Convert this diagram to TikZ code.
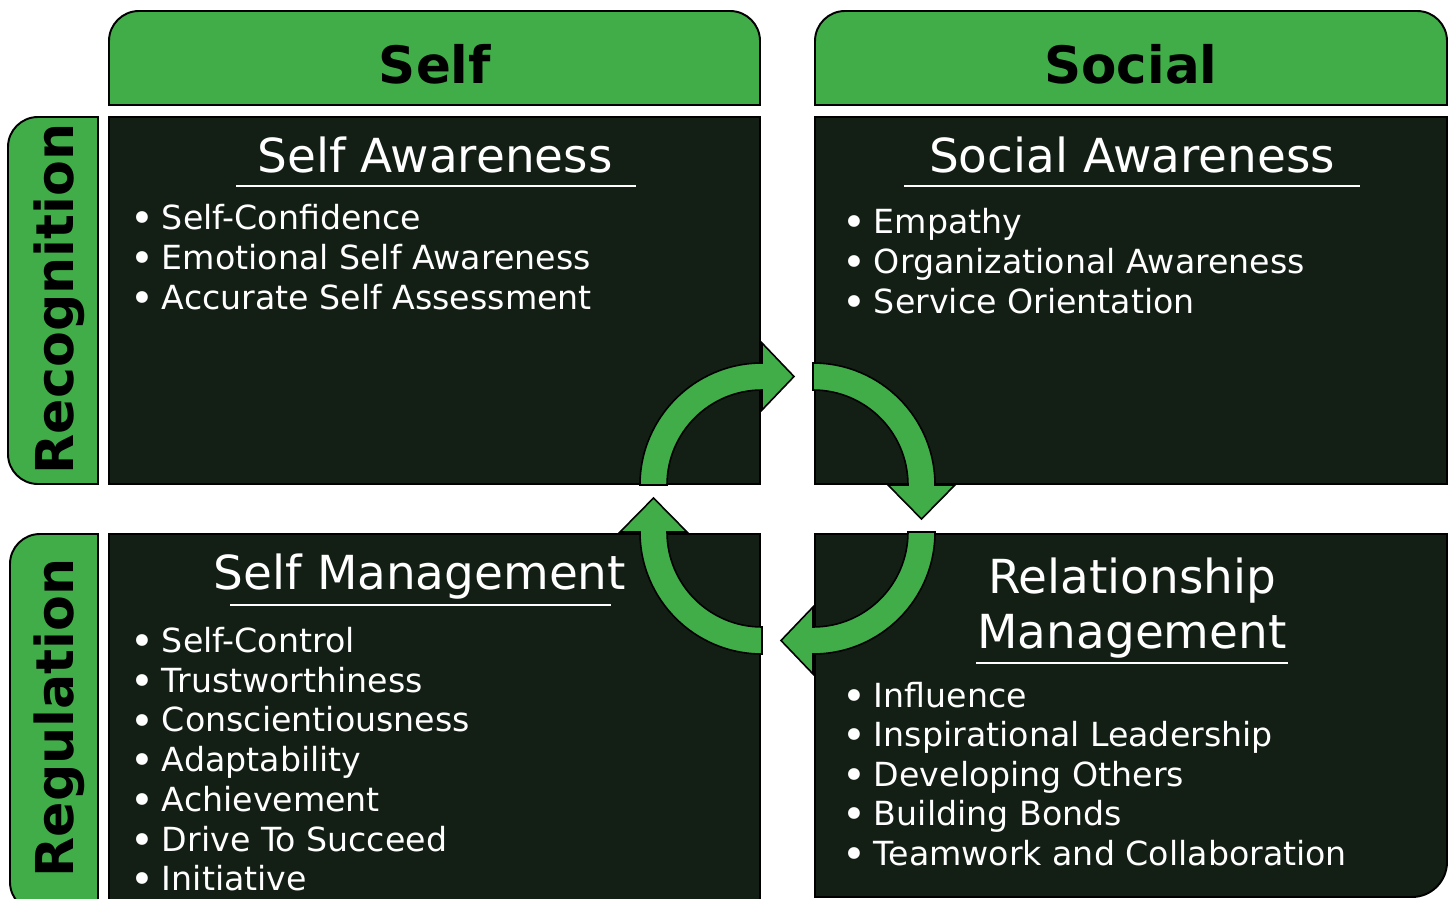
\documentclass[tikz,border=0pt]{standalone}
\usepackage{fontspec}
\setmainfont{DejaVu Sans}
\usepackage{tikz}
\definecolor{eqgreen}{RGB}{65,173,73}
\definecolor{eqdark}{RGB}{19,31,21}
\newcommand{\eqbul}{\makebox[18pt][l]{\raisebox{-1.8pt}{\fontsize{23}{23}\selectfont •}}}
\tikzset{
	headtxt/.style={font=\fontsize{29.3}{35}\selectfont\bfseries, text=black, anchor=base, inner sep=0pt},
	sidetxt/.style={font=\fontsize{29.7}{35}\selectfont\bfseries, text=black, anchor=base, rotate=90, inner sep=0pt},
	titletxt/.style={font=\fontsize{26.7}{32}\selectfont, text=white, anchor=base, inner sep=0pt},
	itemtxt/.style={font=\fontsize{18.9}{22}\selectfont, text=white, anchor=base west, inner sep=0pt},
	panel/.style={fill=eqdark, draw=black, line width=1.1pt},
	tab/.style={fill=eqgreen, draw=black, line width=1.1pt},
	turn/.style={fill=eqgreen, draw=black, line width=0.9pt, line join=miter},
	uline/.style={draw=white, line width=1.4pt}
}

\begin{document}
\begin{tikzpicture}[x=0.02cm, y=-0.02cm]
			%%%%% START %%%%%
			\useasboundingbox (0,0) rectangle (1450,899);
			\clip (0,0) rectangle (1450,899);
			
			% column tabs
			\draw[tab] (109,105) -- (109,41) arc (180:270:30) -- (730,11) arc (270:360:30) -- (760,105) -- cycle;
			\draw[tab] (815,105) -- (815,41) arc (180:270:30) -- (1417,11) arc (270:360:30) -- (1447,105) -- cycle;
			\node[headtxt] (self) at (435,83) {Self};
			\node[headtxt] (social) at (1131,83) {Social};
			
			% row tabs
			\draw[tab] (98,117) -- (38,117) arc (270:180:30) -- (8,454) arc (180:90:30) -- (98,484) -- cycle;
			\draw[tab] (98,534) -- (40,534) arc (270:180:30) -- (10,882) arc (180:90:30) -- (98,912) -- cycle;
			\node[sidetxt] (recog) at (73,299) {Recognition};
			\node[sidetxt] (regul) at (73,718) {Regulation};
			
			% panels
			\draw[panel] (109,117) rectangle (760,484);
			\draw[panel] (815,117) rectangle (1447,484);
			\draw[panel] (109,534) rectangle (760,915);
			\draw[panel] (815,534) -- (1447,534) -- (1447,862) arc (0:90:35) -- (815,897) -- cycle;
			
			% self awareness
			\node[titletxt] (sa) at (435,172) {Self Awareness};
			\draw[uline] (236,186) -- (636,186);
			\foreach \txt [count=\i from 0] in {Self-Confidence, Emotional Self Awareness, Accurate Self Assessment}
				\node[itemtxt] (sa-\i) at (130,{229.5+40*\i}) {\eqbul\txt};
			
			% social awareness
			\node[titletxt] (soa) at (1132,172) {Social Awareness};
			\draw[uline] (904,186) -- (1360,186);
			\foreach \txt [count=\i from 0] in {Empathy, Organizational Awareness, Service Orientation}
				\node[itemtxt] (soa-\i) at (842,{233+40*\i}) {\eqbul\txt};
			
			% self management
			\node[titletxt] (sm) at (420,589) {Self Management};
			\draw[uline] (230,605) -- (611,605);
			\foreach \txt [count=\i from 0] in {Self-Control, Trustworthiness, Conscientiousness, Adaptability, Achievement, Drive To Succeed, Initiative}
				\node[itemtxt] (sm-\i) at (130,{652.5+39.7*\i}) {\eqbul\txt};
			
			% relationship management
			\node[titletxt] (rm) at (1132,593) {Relationship};
			\node[titletxt] (rm2) at (1132,648) {Management};
			\draw[uline] (976,663) -- (1288,663);
			\foreach \txt [count=\i from 0] in {Influence, Inspirational Leadership, Developing Others, Building Bonds, Teamwork and Collaboration}
				\node[itemtxt] (rm-\i) at (842,{707+39.6*\i}) {\eqbul\txt};
			
			% cycle arrows
			\draw[turn] (640,485) arc (180:270:122) -- (762,343) -- (794,376.5) -- (762,410) -- (762,390) arc (270:180:95) -- cycle;
			\draw[turn] (813,363) arc (270:360:122) -- (955,485) -- (921.5,519) -- (888,485) -- (908,485) arc (0:-90:95) -- cycle;
			\draw[turn] (935,532) arc (0:90:122) -- (813,674) -- (781,640.5) -- (813,607) -- (813,627) arc (90:0:95) -- cycle;
			\draw[turn] (762,654) arc (90:180:122) -- (620,532) -- (653.5,498) -- (687,532) -- (667,532) arc (180:90:95) -- cycle;
			
			%%%%% END %%%%%
\end{tikzpicture}
\end{document}
